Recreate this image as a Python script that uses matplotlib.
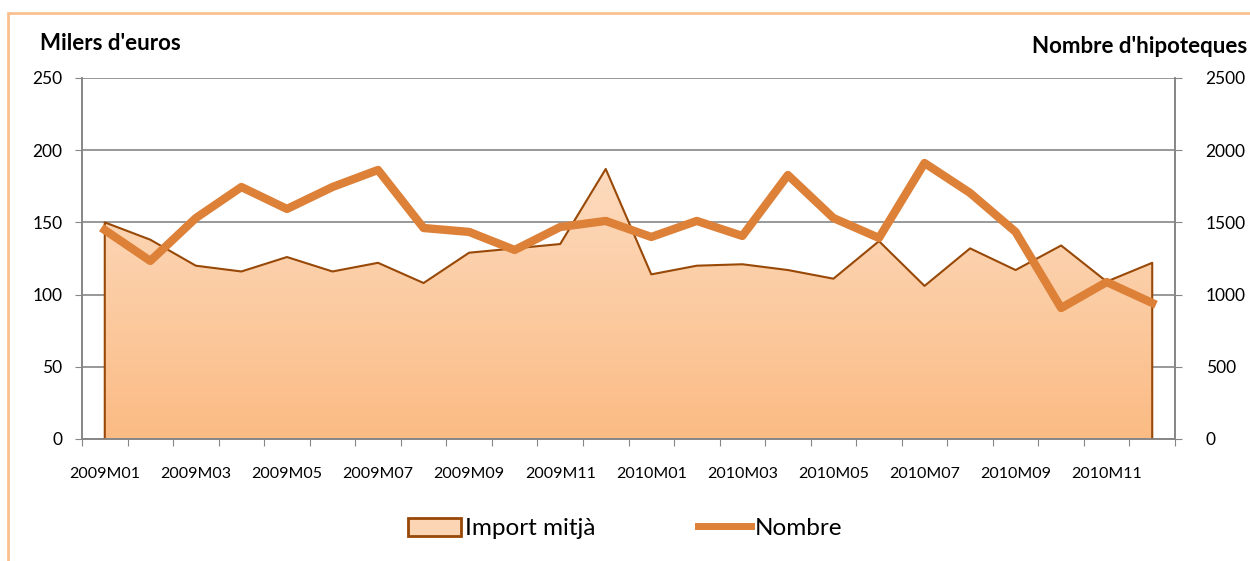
import numpy as np
import matplotlib.pyplot as plt
from matplotlib.patches import Rectangle
from matplotlib.lines import Line2D
from matplotlib.colors import LinearSegmentedColormap

plt.rcParams['font.family'] = ['Lato', 'DejaVu Sans']

months = [f"{y}M{m:02d}" for y in (2009, 2010) for m in range(1, 13)]
import_mitja = [150, 138, 120, 116, 126, 116, 122, 108, 129, 132, 135, 187,
                114, 120, 121, 117, 111, 137, 106, 132, 117, 134, 109, 122]
nombre = [1447, 1233, 1530, 1745, 1593, 1745, 1863, 1461, 1434, 1309, 1468, 1510,
          1399, 1510, 1406, 1828, 1530, 1392, 1911, 1704, 1434, 907, 1087, 942]

grid_c = "#868686"
edge_c = "#984807"
line_c = "#DD8038"

fig = plt.figure(figsize=(12.5, 5.61), dpi=100)
ax = fig.add_axes([0.0656, 0.2175, 0.8744, 0.6435])
ax2 = ax.twinx()

x = np.arange(len(months)) + 0.5

# area with vertical gradient
poly = ax.fill_between(x, 0, import_mitja, color="none", lw=0, zorder=2)
grad = np.linspace(0, 1, 256).reshape(-1, 1)
cmap = LinearSegmentedColormap.from_list("g", ["#FBBB84", "#FDE6D3"])
img = ax.imshow(grad, cmap=cmap, origin="lower", aspect="auto",
                extent=[0, len(months), 0, 250], zorder=2)
img.set_clip_path(poly.get_paths()[0], transform=ax.transData)
ax.plot(np.r_[x[0], x, x[-1]], np.r_[0, import_mitja, 0], color=edge_c, lw=1.5, zorder=3)

ax.set_xlim(0, len(months))
ax.set_ylim(0, 250)
ax.set_yticks(range(0, 251, 50))
ax.yaxis.grid(True, color=grid_c, lw=1.2)
ax.set_axisbelow(True)
ax.set_xticks(np.arange(len(months) + 1))
ax.set_xticklabels([])
ax.set_xticks(x[::2], minor=True)
ax.set_xticklabels(months[::2], minor=True, fontsize=11.5)
ax.tick_params(axis="x", which="minor", length=0, pad=20)
ax.tick_params(axis="x", which="major", length=5, color=grid_c)
ax.tick_params(axis="y", length=5, color=grid_c, labelsize=12.5, pad=9)

ax2.plot(x, nombre, color=line_c, lw=6, zorder=4)
ax2.set_ylim(0, 2500)
ax2.set_yticks(range(0, 2501, 500))
ax2.tick_params(axis="y", length=5, color=grid_c, labelsize=12.5, pad=17)

for a in (ax, ax2):
    for s in a.spines.values():
        s.set_color(grid_c)
        s.set_linewidth(1.2)
    a.spines["top"].set_visible(False)

fig.text(0.032, 0.922, "Milers d'euros", fontsize=16, fontweight="bold", ha="left", va="center")
fig.text(0.998, 0.918, "Nombre d'hipoteques", fontsize=16, fontweight="bold", ha="right", va="center")

handles = [Rectangle((0, 0), 1, 1, facecolor="#FCD5B4", edgecolor=edge_c, lw=2),
           Line2D([], [], color=line_c, lw=5)]
fig.legend(handles, ["Import mitjà", "Nombre"], loc="center", bbox_to_anchor=(0.5, 0.058),
           ncol=2, frameon=False, fontsize=17.5, handlelength=2.2, handleheight=0.8,
           handletextpad=0.15, columnspacing=4.2)

# outer frame
frame = Rectangle((0.0064, -0.1), 1.1, 1.077, transform=fig.transFigure, fill=False,
                  edgecolor="#FAC090", lw=2)
fig.patches.append(frame)

fig.savefig("out.png", dpi=100)
